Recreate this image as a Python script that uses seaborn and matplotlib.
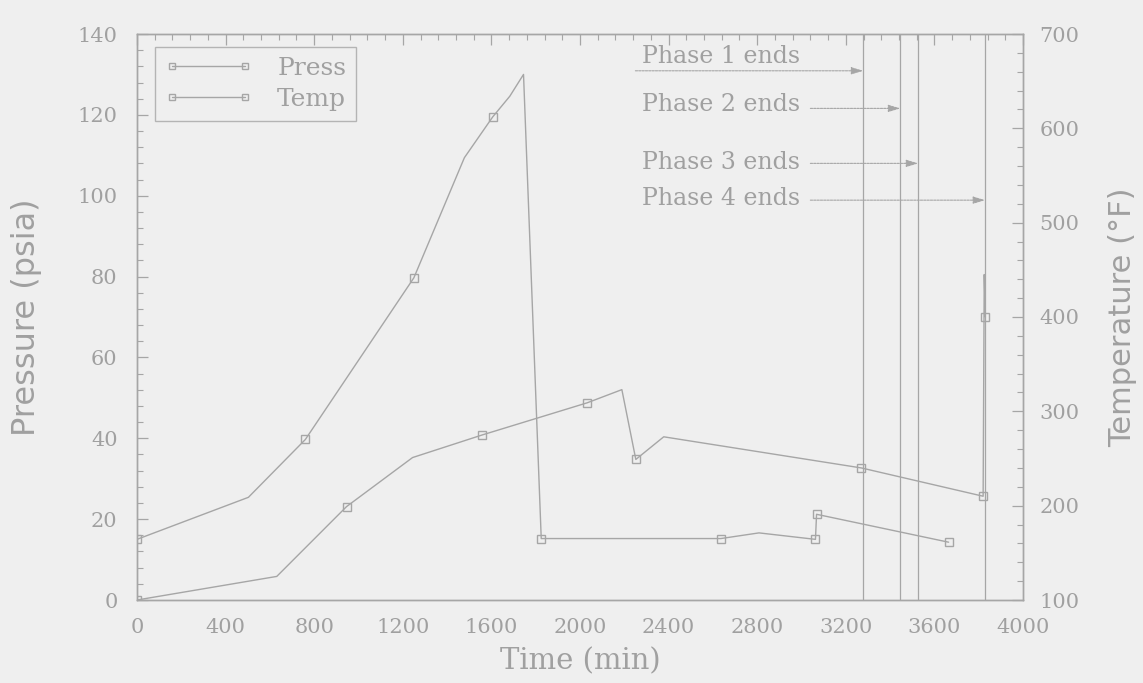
import numpy as np
import pandas as pd
import matplotlib
matplotlib.use("Agg")
import matplotlib.pyplot as plt
from matplotlib.lines import Line2D
from matplotlib.ticker import MultipleLocator
import seaborn as sns

# ---------------- data ----------------
press_time = [0, 503, 760, 1250, 1478, 1606, 1683, 1745, 1825, 2636, 2808, 3063, 3068, 3664]
press_psia = [15.0, 25.4, 39.7, 79.7, 109.4, 119.5, 124.6, 130.0, 15.2, 15.2, 16.6, 15.0, 21.2, 14.3]
press_marked = [0, 2, 3, 5, 8, 9, 11, 12, 13]

temp_time = [0, 631, 946, 1244, 1559, 2032, 2189, 2252, 2378, 3270, 3820, 3825, 3830]
temp_degF = [100, 125, 199, 251, 275, 309, 323, 249, 273, 240, 210, 445, 400]
temp_marked = [0, 2, 4, 5, 7, 9, 10, 12]

phase_labels = ["Phase 1 ends", "Phase 2 ends", "Phase 3 ends", "Phase 4 ends"]
phase_end_time = [3279, 3446, 3527, 3829]
phase_arrow_psia = [130.9, 121.6, 108.0, 98.9]
phase_text_psia = [132.9, 120.9, 106.7, 97.6]
phase_arrow_start = [2250, 3040, 3040, 3040]
phase_text_time = 2280

x_ticks = list(range(0, 4001, 400))
press_ticks = list(range(0, 141, 20))
temp_ticks = list(range(100, 701, 100))

# ---------------- style ----------------
BG = "#efefef"
LINE = "#a6a6a6"
TEXT = "#a0a0a0"

sns.set_theme(style="white")
plt.rcParams["font.family"] = ["DejaVu Serif"]
plt.rcParams["text.color"] = TEXT
plt.rcParams["axes.labelcolor"] = TEXT
plt.rcParams["xtick.color"] = LINE
plt.rcParams["ytick.color"] = LINE
plt.rcParams["xtick.labelcolor"] = TEXT
plt.rcParams["ytick.labelcolor"] = TEXT

fig = plt.figure(figsize=(11.43, 6.83), dpi=100, facecolor=BG)
ax = fig.add_axes([137 / 1143, 1 - 600 / 683, (1023 - 137) / 1143, (600 - 34) / 683])
ax.set_facecolor(BG)
ax2 = ax.twinx()

press_df = pd.DataFrame({"time": press_time, "psia": press_psia})
temp_df = pd.DataFrame({"time": temp_time, "degF": temp_degF})

line_kw = dict(color=LINE, linewidth=1.0, marker="s", markersize=6,
               markerfacecolor="none", markeredgecolor=LINE, markeredgewidth=1.0,
               sort=False, estimator=None, legend=False)

sns.lineplot(data=press_df, x="time", y="psia", ax=ax, markevery=press_marked, **line_kw)
sns.lineplot(data=temp_df, x="time", y="degF", ax=ax2, markevery=temp_marked, **line_kw)

# phase end lines
for t in phase_end_time:
    ax.axvline(t, color=LINE, linewidth=0.9, zorder=1)

# phase annotations
for lab, t, ya, yt, xs in zip(phase_labels, phase_end_time, phase_arrow_psia,
                              phase_text_psia, phase_arrow_start):
    ax.annotate("", xy=(t, ya), xytext=(xs, ya),
                arrowprops=dict(arrowstyle="-|>,head_length=0.6,head_width=0.18",
                                color=LINE, linewidth=0.8, linestyle=(0, (2, 1)),
                                shrinkA=0, shrinkB=0))
    ax.text(phase_text_time, yt, lab, ha="left", va="baseline", fontsize=17,
            color=TEXT, family="DejaVu Serif")

# axes limits / ticks
ax.set_xlim(0, 4000)
ax.set_ylim(0, 140)
ax2.set_ylim(100, 700)
ax.set_xticks(x_ticks)
ax.set_yticks(press_ticks)
ax2.set_yticks(temp_ticks)
ax.xaxis.set_minor_locator(MultipleLocator(80))
ax.yaxis.set_minor_locator(MultipleLocator(4))
ax2.yaxis.set_minor_locator(MultipleLocator(20))

ax.tick_params(axis="both", which="both", direction="in", top=True, right=False)
ax.tick_params(axis="both", which="major", length=8, width=0.9, labelsize=15)
ax.tick_params(axis="both", which="minor", length=4, width=0.8)
ax.tick_params(axis="y", which="major", pad=14)
ax.tick_params(axis="x", which="major", pad=13)
ax2.tick_params(axis="y", which="both", direction="in")
ax2.tick_params(axis="y", which="major", length=8, width=0.9, labelsize=15, pad=12)
ax2.tick_params(axis="y", which="minor", length=4, width=0.8)

for a in (ax, ax2):
    for s in a.spines.values():
        s.set_color(LINE)
        s.set_linewidth(1.0)

ax.set_xlabel("Time (min)", fontsize=21, family="DejaVu Serif")
ax.set_ylabel("Pressure (psia)", fontsize=23, family="DejaVu Sans")
ax2.set_ylabel("Temperature (°F)", fontsize=22, family="DejaVu Sans")
ax.xaxis.set_label_coords(0.5, -0.083)
ax.yaxis.set_label_coords(-0.107, 0.5)
ax2.yaxis.set_label_coords(1.096, 0.5)

handles = [Line2D([], [], color=LINE, linewidth=1.0, marker="s", markersize=5,
                  markerfacecolor="none", markeredgecolor=LINE),
           Line2D([], [], color=LINE, linewidth=1.0, marker="s", markersize=5,
                  markerfacecolor="none", markeredgecolor=LINE)]
leg = ax2.legend(handles, ["Press", "Temp"], loc="upper left",
                 bbox_to_anchor=(0.02, 0.977), borderaxespad=0, numpoints=2,
                 handlelength=3.5, handletextpad=1.0, frameon=True,
                 fancybox=False, borderpad=0.4, labelspacing=0.3,
                 prop={"family": "DejaVu Serif", "size": 18})
leg.get_frame().set_facecolor(BG)
leg.get_frame().set_edgecolor(LINE)
leg.get_frame().set_linewidth(1.0)
for txt in leg.get_texts():
    txt.set_color(TEXT)

fig.savefig("out.png", dpi=100, facecolor=BG)
